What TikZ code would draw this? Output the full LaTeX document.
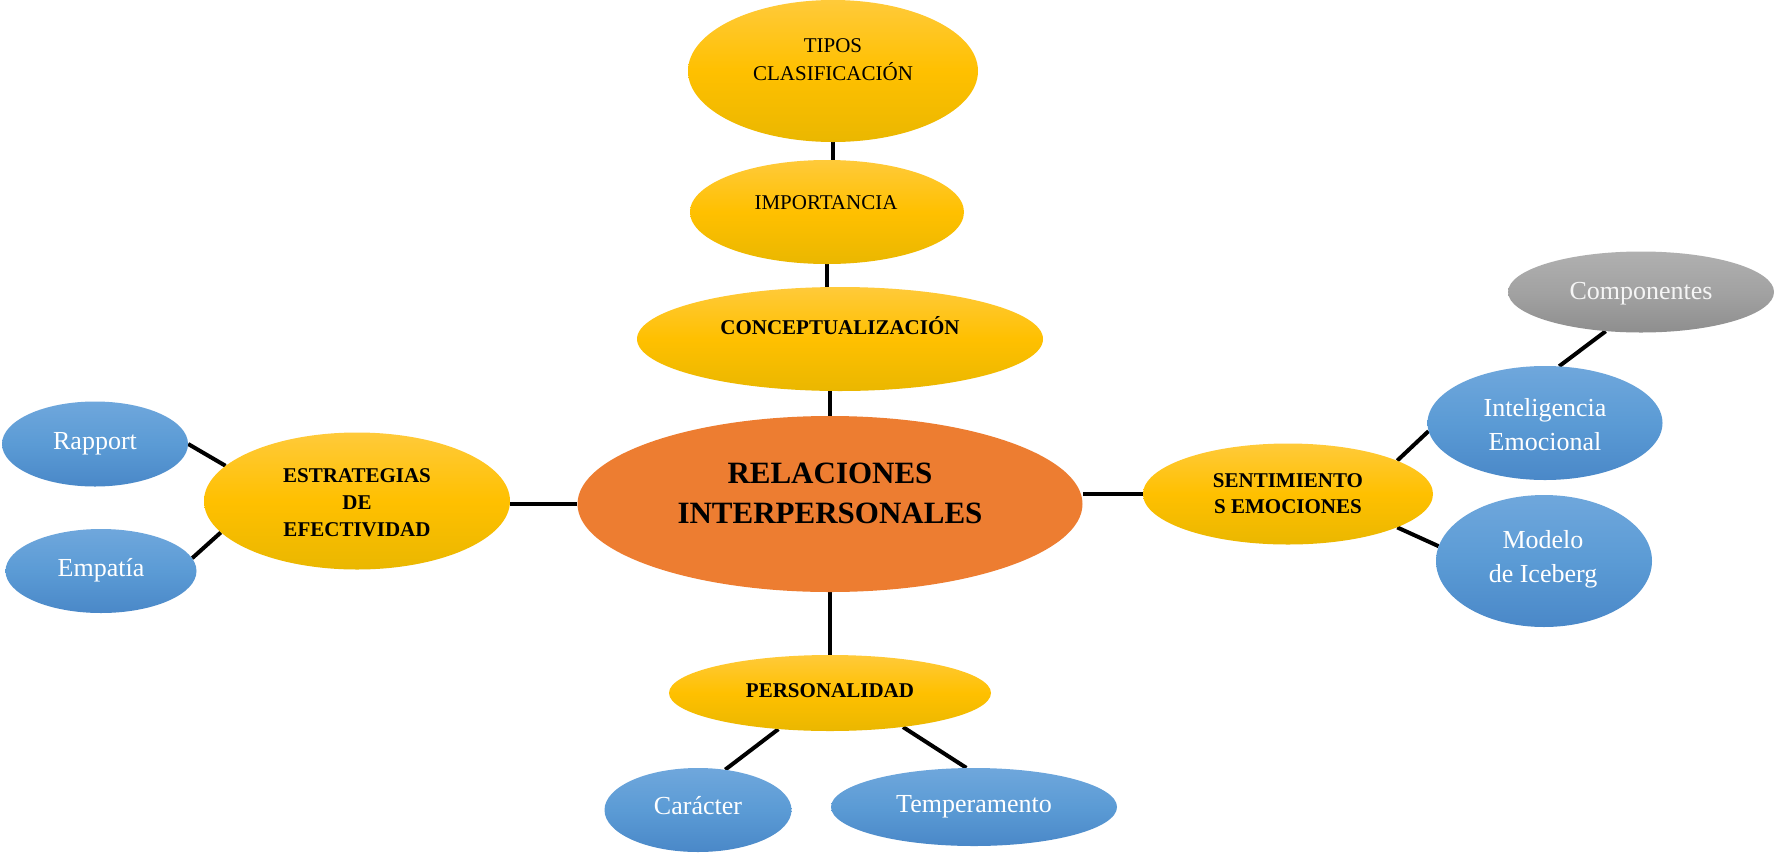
\documentclass[tikz,border=0pt]{standalone}
\usepackage{fontspec}
\setmainfont{Liberation Serif}
\usetikzlibrary{shapes.geometric,backgrounds}

\definecolor{yelTop}{HTML}{FFCA3A}
\definecolor{yelMid}{HTML}{FFC000}
\definecolor{yelBot}{HTML}{EAB700}
\definecolor{bluTop}{HTML}{6FA7DC}
\definecolor{bluMid}{HTML}{5B9BD5}
\definecolor{bluBot}{HTML}{4A88C8}
\definecolor{gryTop}{HTML}{B0B0B0}
\definecolor{gryMid}{HTML}{A2A2A2}
\definecolor{gryBot}{HTML}{8E8E8E}
\definecolor{orng}{HTML}{ED7D31}

\tikzset{
  oval/.style={ellipse, inner sep=0pt, draw=none},
  yel/.style={oval, top color=yelTop, bottom color=yelBot, middle color=yelMid},
  blu/.style={oval, top color=bluTop, bottom color=bluBot, middle color=bluMid},
  gry/.style={oval, top color=gryTop, bottom color=gryBot, middle color=gryMid},
  hub/.style={oval, fill=orng},
  link/.style={line width=4pt, black},
  ytxt/.style={align=center, inner sep=0pt, font=\fontsize{21}{27}\selectfont},
  ybold/.style={ytxt, font=\fontsize{21}{27}\selectfont\bfseries},
  btxt/.style={align=center, inner sep=0pt, text=white, font=\fontsize{26}{34}\selectfont},
  htxt/.style={align=center, inner sep=0pt, font=\fontsize{31}{40}\selectfont\bfseries},
}

\begin{document}
\begin{tikzpicture}[x=1pt, y=-1pt]
\useasboundingbox (0,0) rectangle (1775,852);

% central topic
\node[hub, minimum width=505pt, minimum height=176pt] (main) at (830,504) {};
\node[htxt] (mainT) at (830,493) {RELACIONES\\INTERPERSONALES};

% upper branch
\node[yel, minimum width=406pt, minimum height=104pt] (conc) at (840,339) {};
\node[ybold] (concT) at (840,326) {CONCEPTUALIZACIÓN};
\node[yel, minimum width=274pt, minimum height=104pt] (imp) at (827,212) {};
\node[ytxt] (impT) at (826,203) {IMPORTANCIA};
\node[yel, minimum width=290pt, minimum height=142pt] (tipos) at (833,71) {};
\node[ytxt, font=\fontsize{21}{28}\selectfont] (tiposT) at (833,60) {TIPOS\\CLASIFICACIÓN};

% left branch
\node[yel, minimum width=306pt, minimum height=137pt] (estr) at (357,501) {};
\node[ybold] (estrT) at (357,503) {ESTRATEGIAS\\DE\\EFECTIVIDAD};
\node[blu, minimum width=186pt, minimum height=85pt] (rap) at (95,444) {};
\node[btxt] (rapT) at (95,444) {Rapport};
\node[blu, minimum width=191pt, minimum height=84pt] (emp) at (101,571) {};
\node[btxt] (empT) at (101,570) {Empatía};

% right branch
\node[yel, minimum width=290pt, minimum height=101pt] (sent) at (1288,494) {};
\node[ybold, font=\fontsize{21}{26}\selectfont\bfseries] (sentT) at (1288,494) {SENTIMIENTO\\S EMOCIONES};
\node[blu, minimum width=235pt, minimum height=114pt] (intel) at (1545,423) {};
\node[btxt] (intelT) at (1545,425) {Inteligencia\\Emocional};
\node[blu, minimum width=216pt, minimum height=132pt] (mod) at (1544,561) {};
\node[btxt] (modT) at (1543,559) {Modelo\\de Iceberg};
\node[gry, minimum width=266pt, minimum height=81pt] (comp) at (1641,292) {};
\node[btxt, text=white!96!black] (compT) at (1641,294) {Componentes};

% lower branch
\node[yel, minimum width=322pt, minimum height=76pt] (pers) at (830,693) {};
\node[ybold] (persT) at (830,691) {PERSONALIDAD};
\node[blu, minimum width=187pt, minimum height=84pt] (car) at (698,810) {};
\node[btxt] (carT) at (698,806) {Carácter};
\node[blu, minimum width=286pt, minimum height=78pt] (temp) at (974,807) {};
\node[btxt] (tempT) at (974,807) {Temperamento};

% connectors, behind the ovals
\begin{scope}[on background layer]
  \fill[white] (0,0) rectangle (1775,852);
  \draw[link] (tipos.south) -- (tipos.south |- imp.north);
  \draw[link] (imp.south) -- (imp.south |- conc.north);
  \draw[link] (main.north) -- (main.north |- conc.south);
  \draw[link] (main.south) -- (pers.north);
  \draw[link] (main.west) -- (main.west -| estr.east);
  \draw[link] (sent.west) -- (sent.west -| main.east);
  \draw[link] (rap.east) -- (estr.165);
  \draw[link] (emp.8) -- (estr.193);
  \draw[link] (sent.17) -- (intel.184);
  \draw[link] (sent.343) -- (mod.172);
  \draw[link] (intel.76) -- (comp.228);
  \draw[link] (pers.215) -- (car.56);
  \draw[link] (pers.335) -- (temp.101);
\end{scope}
\end{tikzpicture}
\end{document}
